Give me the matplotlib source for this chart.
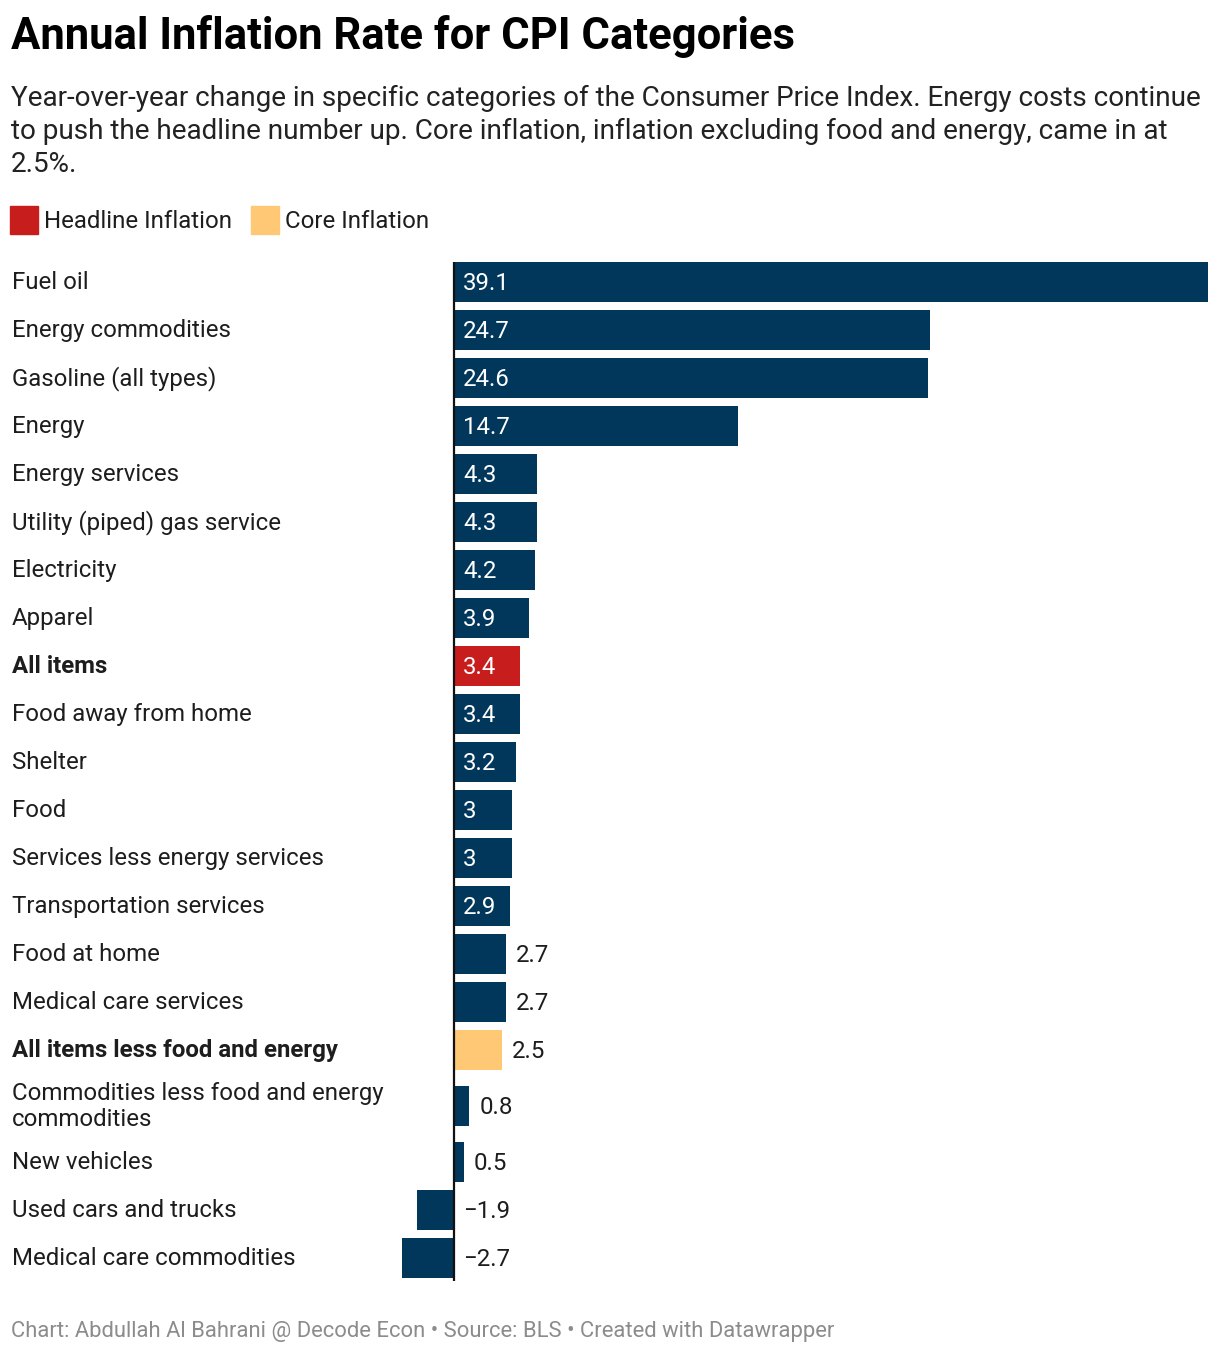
import matplotlib
matplotlib.use("Agg")
import matplotlib.pyplot as plt
from matplotlib.patches import Rectangle

plt.rcParams['font.family'] = ['Roboto', 'DejaVu Sans']

categories = [
    "Fuel oil", "Energy commodities", "Gasoline (all types)", "Energy",
    "Energy services", "Utility (piped) gas service", "Electricity", "Apparel",
    "All items", "Food away from home", "Shelter", "Food",
    "Services less energy services", "Transportation services", "Food at home",
    "Medical care services", "All items less food and energy",
    "Commodities less food and energy\ncommodities", "New vehicles",
    "Used cars and trucks", "Medical care commodities",
]
values = [39.1, 24.7, 24.6, 14.7, 4.3, 4.3, 4.2, 3.9, 3.4, 3.4, 3.2, 3.0, 3.0,
          2.9, 2.7, 2.7, 2.5, 0.8, 0.5, -1.9, -2.7]
value_labels = ["39.1", "24.7", "24.6", "14.7", "4.3", "4.3", "4.2", "3.9", "3.4",
                "3.4", "3.2", "3", "3", "2.9", "2.7", "2.7", "2.5", "0.8", "0.5",
                "\u22121.9", "\u22122.7"]
highlight = {"All items": "headline", "All items less food and energy": "core"}
legend_labels = ["Headline Inflation", "Core Inflation"]

NAVY = "#01375b"
RED = "#c71e1d"
YELLOW = "#fec875"
TEXT = "#1d1d1d"

W, H = 1220, 1356
fig = plt.figure(figsize=(W / 100, H / 100), dpi=100)

def fy(px):
    return 1 - px / H

def fx(px):
    return px / W

LAB = 17.3

# Title, subtitle
fig.text(fx(11), fy(37), "Annual Inflation Rate for CPI Categories", fontsize=31.4,
         fontweight='bold', color="#000000", va='center', ha='left')
sub = ["Year-over-year change in specific categories of the Consumer Price Index. Energy costs continue",
       "to push the headline number up. Core inflation, inflation excluding food and energy, came in at",
       "2.5%."]
for i, line in enumerate(sub):
    fig.text(fx(11), fy(98 + i * 33.5), line, fontsize=20.1, color="#222222",
             va='center', ha='left')

# Legend
leg_colors = [RED, YELLOW]
leg_x = [10, 251]
for lx, c, lab in zip(leg_x, leg_colors, legend_labels):
    fig.patches.append(Rectangle((fx(lx), fy(234)), 28 / W, 28 / H,
                                 transform=fig.transFigure, color=c))
    fig.text(fx(lx + 34), fy(221), lab, fontsize=LAB, color=TEXT,
             va='center', ha='left')

# Row layout
row_h = [48 + 16 * c.count("\n") for c in categories]
top = 258
centers = []
acc = top
for h in row_h:
    centers.append(acc + h / 2)
    acc += h
bottom = acc

ax_left, ax_right = 402, 1208
ax = fig.add_axes([fx(ax_left), fy(bottom), (ax_right - ax_left) / W, (bottom - top) / H])
ax.set_xlim(min(values), max(values))
ax.set_ylim(bottom, top)
ax.axis('off')

colors = []
for c in categories:
    k = highlight.get(c)
    colors.append(RED if k == "headline" else YELLOW if k == "core" else NAVY)

ax.barh(centers, values, height=40, color=colors, linewidth=0)
ax.plot([0, 0], [top + 4, bottom - 1], color="#111111", lw=1.6, solid_capstyle='butt')

px_per_unit = (ax_right - ax_left) / (max(values) - min(values))
for y, v, lab, c in zip(centers, values, value_labels, categories):
    inside = v * px_per_unit > 54
    off = 9 / px_per_unit
    if inside:
        ax.text(off, y + 1, lab, color="white", fontsize=LAB, va='center', ha='left')
    elif v >= 0:
        ax.text(v + 10 / px_per_unit, y + 1, lab, color=TEXT, fontsize=LAB,
                va='center', ha='left')
    else:
        ax.text(off, y + 1, lab, color=TEXT, fontsize=LAB, va='center', ha='left')
    bold = c in highlight
    fig.text(fx(12), fy(y + 0.5), c, fontsize=LAB, color=TEXT, va='center', ha='left',
             fontweight='bold' if bold else 'normal', linespacing=1.2)

fig.text(fx(11), fy(1331),
         "Chart: Abdullah Al Bahrani @ Decode Econ \u2022 Source: BLS \u2022 Created with Datawrapper",
         fontsize=15.85, color="#8c8c8c", va='center', ha='left')

fig.savefig("out.png", dpi=100, facecolor="white")
